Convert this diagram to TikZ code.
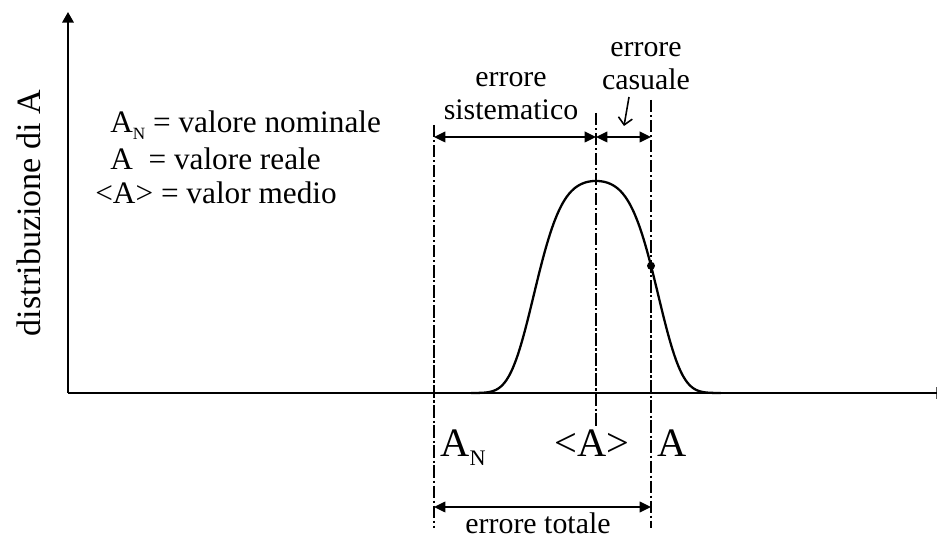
\documentclass[tikz,border=0pt]{standalone}
\usepackage{fontspec}
\setmainfont{Liberation Serif}
\usetikzlibrary{arrows.meta}
\newcommand{\idxN}{\raisebox{-.22em}{\scalebox{.55}{N}}}

\begin{document}
\begin{tikzpicture}[x=0.02cm,y=-0.02cm,>={Triangle[length=6.5pt,width=6pt]}]
\tikzset{
  axis/.style={draw=black,line width=1pt,-{Triangle[length=6pt,width=6.5pt]}},
  guide/.style={draw=black,line width=1.6pt,dash pattern=on 7pt off 1.6pt on 1.2pt off 1.6pt},
  dimarr/.style={<->,draw=black,line width=1.2pt},
  bell/.style={draw=black,line width=1.3pt},
  lab/.style={font=\fontsize{17}{19}\selectfont,align=center,inner sep=0pt},
  leg/.style={font=\fontsize{17.8}{20}\selectfont,inner sep=0pt,anchor=base west},
  big/.style={font=\fontsize{23}{26}\selectfont,inner sep=0pt}
}
\useasboundingbox (0,0) rectangle (937,540);
\coordinate (O) at (68,393);
\coordinate (ytop) at (68,12);
\coordinate (xend) at (947,393);
\draw[axis] (O) -- (ytop);
\draw[axis] (O) -- (xend);
\coordinate (nomT) at (434,125);
\coordinate (nomB) at (434,528);
\coordinate (medT) at (596,113);
\coordinate (medB) at (596,427);
\coordinate (realT) at (651,100);
\coordinate (realB) at (651,528);
\coordinate (topdim) at (0,137);
\coordinate (botdim) at (0,507);
\draw[guide] (nomT) -- (nomB);
\draw[guide] (medT) -- (medB);
\draw[guide] (realT) -- (realB);
\draw[bell] plot[domain=-1.25:1.25,samples=121,smooth] ({596+100*\x},{393-212*exp(-(0.6*\x*\x+3.6*\x*\x*\x*\x))});
\pgfmathsetmacro{\hity}{393-212*exp(-(0.6*0.55*0.55+3.6*0.55*0.55*0.55*0.55))}
\coordinate (hit) at (651,\hity);
\fill (hit) circle[radius=4];
\draw[dimarr] (nomT |- topdim) -- (medT |- topdim);
\draw[dimarr] (medT |- topdim) -- (realT |- topdim);
\draw[dimarr] (nomB |- botdim) -- (realB |- botdim);
\node[lab,anchor=base] (syslab) at (511,120) {errore\\sistematico};
\node[lab,anchor=base] (caslab) at (646,90) {errore\\casuale};
\coordinate (casT) at (629,97);
\coordinate (casB) at (624,126);
\draw[line width=0.9pt,-{Straight Barb[length=4pt]}] (casT) -- (casB);
\node[leg] (nomdef) at (110,133) {A\idxN{} = valore nominale};
\node[leg] (realdef) at (110,170) {A\ \ = valore reale};
\node[leg] (meddef) at (95,204) {<A> = valor medio};
\node[font=\fontsize{19.4}{22}\selectfont,inner sep=0pt,rotate=90,anchor=base] (ylab) at (40,213) {distribuzione di A};
\node[big,anchor=base west] (nom) at (440,457) {A\idxN};
\node[big,anchor=base] (med) at (592,457) {<A>};
\node[big,anchor=base west] (real) at (657,457) {A};
\node[lab,anchor=base] (totlab) at (538,534) {errore totale};
\end{tikzpicture}
\end{document}
